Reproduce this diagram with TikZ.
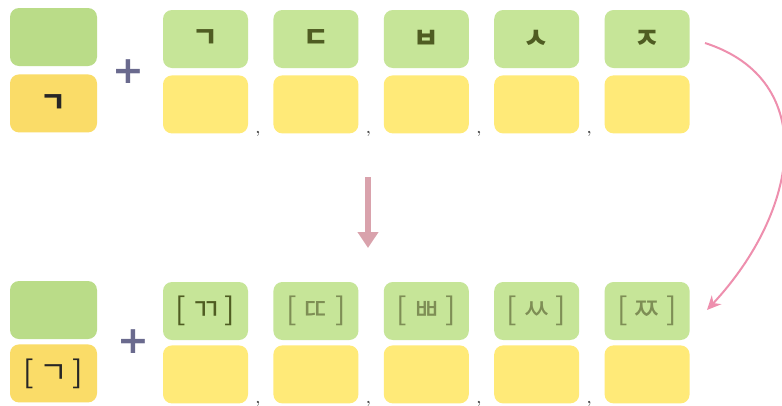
\documentclass[tikz,border=0pt]{standalone}
\usepackage{fontspec}
\newfontfamily\kr{Noto Sans CJK KR}
\newfontfamily\plusfont{DejaVu Sans}
\usepackage{xcolor}
\usetikzlibrary{positioning, arrows.meta}
\definecolor{leafgreen}{HTML}{C6E598}
\definecolor{darkleaf}{HTML}{BADC88}
\definecolor{sunyellow}{HTML}{FFEA78}
\definecolor{darkyellow}{HTML}{FADC68}
\definecolor{jamoink}{HTML}{4F5C22}
\definecolor{fadeink}{HTML}{7E8E55}
\definecolor{plusink}{HTML}{6A6A8E}
\definecolor{rosy}{HTML}{D9A2AC}
\definecolor{pinkline}{HTML}{EE8FAE}
\newcommand{\tense}[1]{[\hspace{5pt}#1\hspace{5pt}]}

\begin{document}
\begin{tikzpicture}[
    x=1pt, y=-1pt,
    node distance=25pt,
    box/.style={rectangle, rounded corners=9pt, minimum width=85pt,
                minimum height=58pt, inner sep=0pt, fill=leafgreen,
                font=\kr\bfseries\fontsize{28}{28}\selectfont, text=jamoink},
    slot/.style={box, fill=sunyellow},
    sound/.style={box, font=\kr\fontsize{31}{31}\selectfont},
    plus/.style={font=\plusfont\bfseries\fontsize{38}{38}\selectfont, text=plusink},
    sep/.style={anchor=base west, font=\bfseries\fontsize{15}{15}\selectfont, text=black!70},
    arr/.style={-{Triangle[width=20pt, length=16pt]}, line width=6pt, rosy},
    curve/.style={-{Stealth[width=13pt, length=14pt]}, line width=2pt, pinkline}
]
\useasboundingbox (0,0) rectangle (782,405);
\fill[white] (0,0) rectangle (782,405);

% upper half: basic consonants
\node[box, fill=darkleaf, minimum width=87pt] (lg) at (53.5,37) {};
\node[slot, fill=darkyellow, minimum width=87pt, below=8pt of lg, text=black!85] (ly) {ㄱ};
\node[plus] (pl) at (128,72) {+};

\node[box] (t1) at (205.5,39) {ㄱ};
\node[box, right=of t1] (t2) {ㄷ};
\node[box, right=of t2] (t3) {ㅂ};
\node[box, right=of t3] (t4) {ㅅ};
\node[box, right=of t4] (t5) {ㅈ};
\node[slot, below=7pt of t1] (y1) {};
\node[slot, below=7pt of t2] (y2) {};
\node[slot, below=7pt of t3] (y3) {};
\node[slot, below=7pt of t4] (y4) {};
\node[slot, below=7pt of t5] (y5) {};
\node[sep] (c1) at ([xshift=4pt]y1.south east) {,};
\node[sep] (c2) at ([xshift=4pt]y2.south east) {,};
\node[sep] (c3) at ([xshift=4pt]y3.south east) {,};
\node[sep] (c4) at ([xshift=4pt]y4.south east) {,};

% lower half: tense sounds
\node[box, fill=darkleaf, minimum width=87pt] (lg2) at (53.5,310) {};
\node[slot, fill=darkyellow, minimum width=87pt, below=5pt of lg2,
      font=\kr\fontsize{31}{31}\selectfont, text=black!85] (ly2) {\tense{ㄱ}};
\node[plus] (pl2) at (133,342) {+};

\node[sound] (b1) at (205.5,311) {\tense{ㄲ}};
\node[sound, right=of b1, text=fadeink] (b2) {\tense{ㄸ}};
\node[sound, right=of b2, text=fadeink] (b3) {\tense{ㅃ}};
\node[sound, right=of b3, text=fadeink] (b4) {\tense{ㅆ}};
\node[sound, right=of b4, text=fadeink] (b5) {\tense{ㅉ}};
\node[slot, below=5pt of b1] (z1) {};
\node[slot, below=5pt of b2] (z2) {};
\node[slot, below=5pt of b3] (z3) {};
\node[slot, below=5pt of b4] (z4) {};
\node[slot, below=5pt of b5] (z5) {};
\node[sep] (d1) at ([xshift=4pt]z1.south east) {,};
\node[sep] (d2) at ([xshift=4pt]z2.south east) {,};
\node[sep] (d3) at ([xshift=4pt]z3.south east) {,};
\node[sep] (d4) at ([xshift=4pt]z4.south east) {,};

% arrows
\coordinate (dtop) at (368,177);
\coordinate (dbot) at (368,248);
\draw[arr] (dtop) -- (dbot);
\coordinate (cs) at (705,43);
\coordinate (ce) at (707,310);
\draw[curve] (cs) .. controls (820,80) and (800,210) .. (ce);
\end{tikzpicture}
\end{document}
